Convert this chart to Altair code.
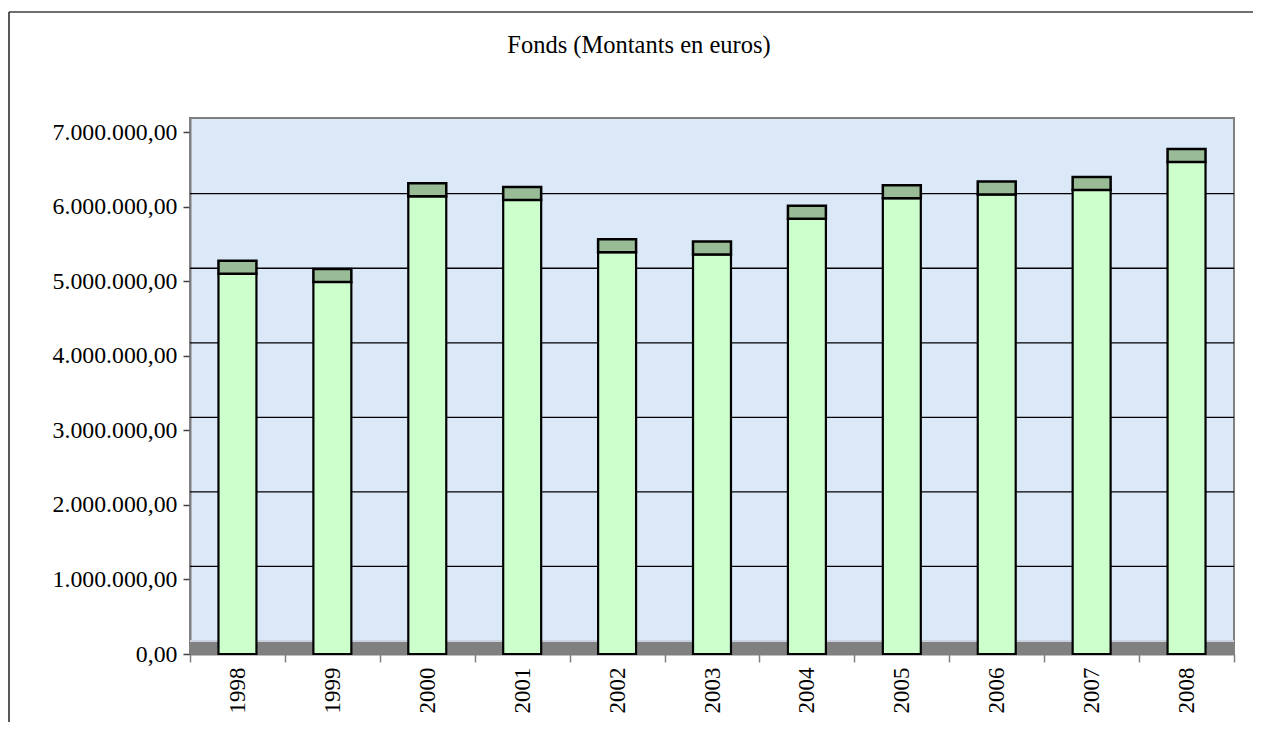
import altair as alt
import pandas as pd

TITLE = "Fonds (Montants en euros)"
years = ["1998", "1999", "2000", "2001", "2002", "2003", "2004", "2005", "2006", "2007", "2008"]
montants = [5100000, 4990000, 6140000, 6090000, 5390000, 5360000, 5840000, 6115000, 6165000, 6225000, 6600000]
y_ticks = [0, 1000000, 2000000, 3000000, 4000000, 5000000, 6000000, 7000000]

FONT = "Liberation Serif"
W, H = 1044, 536
DEPTH = 13
PLOT_BG = "#dbe8f8"

df = pd.DataFrame({"annee": years, "montant": montants})
grid_df = pd.DataFrame({"v": [t for t in y_ticks if 0 < t < max(y_ticks)]})
one = pd.DataFrame({"v": [0]})
title_df = pd.DataFrame({"t": [TITLE]})

x_scale = alt.Scale(domain=years, paddingInner=0, paddingOuter=0)
y_scale = alt.Scale(domain=[0, 7190000], nice=False, zero=True)

x_enc = alt.X(
    "annee:N",
    scale=x_scale,
    sort=years,
    axis=alt.Axis(
        title=None,
        tickBand="extent",
        labelAngle=270,
        labelFont=FONT,
        labelFontSize=23,
        labelColor="black",
        labelPadding=5,
        tickSize=8,
        tickColor="#808080",
        tickWidth=1.5,
        domainColor="#808080",
        domainWidth=2,
        grid=False,
    ),
)

y_axis = alt.Axis(
    title=None,
    values=y_ticks,
    format=",.2f",
    labelFont=FONT,
    labelFontSize=23.8,
    labelColor="black",
    labelPadding=6,
    tickSize=7,
    tickColor="#404040",
    tickWidth=1.5,
    domainColor="#808080",
    domainWidth=2,
    grid=False,
)

base = alt.Chart(df)

floor = alt.Chart(one).mark_rect(fill="#808080", y2Offset=-(DEPTH - 1)).encode(
    y=alt.Y("v:Q", scale=y_scale, axis=y_axis),
    y2=alt.Y2("v:Q"),
)

floor_line = alt.Chart(one).mark_rule(color="#c9d3df", strokeWidth=2, yOffset=-DEPTH).encode(
    y=alt.Y("v:Q", scale=y_scale)
)

grid = alt.Chart(grid_df).mark_rule(color="black", strokeWidth=1.3, yOffset=-DEPTH).encode(
    y=alt.Y("v:Q", scale=y_scale)
)

bars = base.mark_bar(
    width=alt.RelativeBandSize(0.4), fill="#ccffcc", stroke="black", strokeWidth=2.2
).encode(
    x=x_enc,
    y=alt.Y("montant:Q", scale=y_scale),
    y2=alt.datum(0),
)

tops = base.mark_bar(
    width=alt.RelativeBandSize(0.4), fill="#99bb95", stroke="black", strokeWidth=2.5,
    y2Offset=-DEPTH,
).encode(
    x=alt.X("annee:N", scale=x_scale, sort=years),
    y=alt.Y("montant:Q", scale=y_scale),
    y2=alt.Y2("montant:Q"),
)

title = alt.Chart(title_df).mark_text(
    font=FONT, fontSize=24.5, color="black", align="center", baseline="alphabetic"
).encode(x=alt.value(449), y=alt.value(-65), text="t:N")

border_top = alt.Chart(one).mark_rule(color="#404040", strokeWidth=1.5).encode(
    x=alt.value(-181), x2=alt.value(1080), y=alt.value(-106)
)
border_left = alt.Chart(one).mark_rule(color="#202020", strokeWidth=1.5).encode(
    x=alt.value(-181), y=alt.value(-106), y2=alt.value(620)
)

chart = alt.layer(
    floor, floor_line, grid, bars, tops, title, border_top, border_left
).properties(
    width=W,
    height=H,
    autosize=alt.AutoSizeParams(type="none"),
    padding={"left": 182, "top": 110, "right": 19, "bottom": 68},
    background="white",
    view=alt.ViewBackground(fill=PLOT_BG, stroke="#808080", strokeWidth=2),
).configure_view(
    fill=PLOT_BG, stroke="#808080", strokeWidth=2
).configure(
    locale={"number": {"decimal": ",", "thousands": ".", "grouping": [3], "currency": ["", " €"]}}
)

chart.save("out.html", embed_options={"renderer": "svg", "actions": False})
